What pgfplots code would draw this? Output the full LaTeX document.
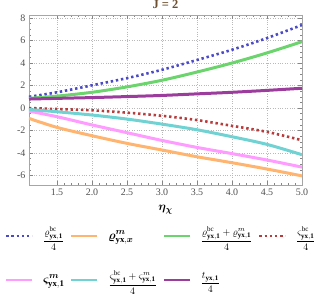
\documentclass[border=0pt]{standalone}
\usepackage{pgfplots}
\pgfplotsset{compat=1.18}
\usepackage{bm}
\usepackage{fontspec}
\setmainfont{Liberation Serif}
\definecolor{cBlue}{HTML}{4A4AC8}
\definecolor{cOrange}{HTML}{FFB470}
\definecolor{cGreen}{HTML}{6CD46C}
\definecolor{cRed}{HTML}{B83C3C}
\definecolor{cPink}{HTML}{FF9CFF}
\definecolor{cCyan}{HTML}{70D2D2}
\definecolor{cPurple}{HTML}{9C3C9C}
\definecolor{cTitle}{HTML}{6B4F30}
\definecolor{cTick}{HTML}{505050}
\newcommand{\bigleg}[1]{{\fontsize{12.5}{12.5}\selectfont #1}}
\begin{document}
\begin{tikzpicture}
\useasboundingbox (-29bp,-113bp) rectangle (295bp,185bp);
\begin{axis}[
  at={(0,0)}, anchor=south west,
  scale only axis, width=273bp, height=170bp,
  xmin=1.1, xmax=5.0, ymin=-6.84, ymax=8.27,
  xtick={1.5,2.0,...,5.0},
  ytick={-6,-4,...,8},
  minor x tick num=4, minor y tick num=3,
  xticklabel style={/pgf/number format/.cd, fixed, fixed zerofill, precision=1},
  /pgf/number format/assume math mode=true,
  tick label style={font=\fontsize{10}{10}\selectfont, text=cTick},
  tick align=inside, tick style={cTick!70, line width=0.4pt},
  major tick length=4bp, minor tick length=2bp,
  axis line style={draw=gray!70, line width=0.6pt},
  grid=major, grid style={dotted, gray!55, line width=0.5pt},
  xlabel={$\bm{\eta_{\chi}}$}, xlabel style={font=\fontsize{13}{13}\selectfont, at={(axis description cs:0.5,-0.147)}, anchor=center},
  title={\textbf{J = 2}}, title style={font=\fontsize{12.5}{12.5}\selectfont, text=cTitle, at={(0.5,1)}, anchor=south, yshift=-3bp},
  clip=true,
  legend columns=4,
  legend cell align=left,
  legend style={draw=none, fill=none, at={(axis description cs:0.485,-0.222)}, anchor=north,
     font=\fontsize{10}{10}\selectfont,
     /tikz/every even column/.append style={column sep=4bp},
     /tikz/every odd column/.append style={column sep=8bp},
     row sep=22bp},
  legend image code/.code={\draw[#1,line width=2bp] (0bp,0bp) -- (26bp,0bp);},
]
\addplot[cBlue, line width=2.6bp, dash pattern=on 2.4bp off 2.8bp, smooth] coordinates {
 (1.1,1.0) (1.5,1.4) (2.0,2.02) (2.5,2.66) (3.0,3.4) (3.5,4.27) (4.0,5.18) (4.5,6.22) (5.0,7.38)};
\addlegendentry{$\displaystyle\frac{\varrho^{\mathrm{bc}}_{\mathbf{yx,1}}}{4}$}
\addplot[cOrange, line width=3bp, smooth] coordinates {
 (1.1,-0.92) (1.5,-1.72) (2.0,-2.46) (2.5,-3.14) (3.0,-3.73) (3.5,-4.33) (4.0,-4.86) (4.5,-5.42) (5.0,-6.03)};
\addlegendentry{\bigleg{$\bm{\varrho}^{\bm{m}}_{\mathbf{yx},\bm{x}}$}}
\addplot[cGreen, line width=3bp, smooth] coordinates {
 (1.1,0.86) (1.5,1.06) (2.0,1.40) (2.5,1.88) (3.0,2.47) (3.5,3.2) (4.0,4.0) (4.5,4.9) (5.0,5.9)};
\addlegendentry{$\displaystyle\frac{\varrho^{\mathrm{bc}}_{\mathbf{yx,1}}+\varrho^{m}_{\mathbf{yx,1}}}{4}$}
\addplot[cRed, line width=2.6bp, dash pattern=on 2.4bp off 2.8bp, smooth] coordinates {
 (1.1,0.0) (1.5,-0.09) (2.0,-0.2) (2.5,-0.41) (3.0,-0.69) (3.5,-1.07) (4.0,-1.58) (4.5,-2.12) (5.0,-2.86)};
\addlegendentry{$\displaystyle\frac{\varsigma^{\mathrm{bc}}_{\mathbf{yx,1}}}{4}$}
\addplot[cPink, line width=3bp, smooth] coordinates {
 (1.1,-0.27) (1.5,-0.77) (2.0,-1.5) (2.5,-2.19) (3.0,-2.88) (3.5,-3.5) (4.0,-4.05) (4.5,-4.62) (5.0,-5.25)};
\addlegendentry{\bigleg{$\bm{\varsigma}^{\bm{m}}_{\mathbf{yx,1}}$}}
\addplot[cCyan, line width=3bp, smooth] coordinates {
 (1.1,-0.13) (1.5,-0.33) (2.0,-0.62) (2.5,-0.98) (3.0,-1.43) (3.5,-1.93) (4.0,-2.55) (4.5,-3.23) (5.0,-4.15)};
\addlegendentry{$\displaystyle\frac{\varsigma^{\mathrm{bc}}_{\mathbf{yx,1}}+\varsigma^{m}_{\mathbf{yx,1}}}{4}$}
\addplot[cPurple, line width=3bp, smooth] coordinates {
 (1.1,0.8) (1.5,0.86) (2.0,0.93) (2.5,1.02) (3.0,1.12) (3.5,1.26) (4.0,1.4) (4.5,1.57) (5.0,1.76)};
\addlegendentry{$\displaystyle\frac{t_{\mathbf{yx,1}}}{4}$}
\end{axis}
\end{tikzpicture}
\end{document}
